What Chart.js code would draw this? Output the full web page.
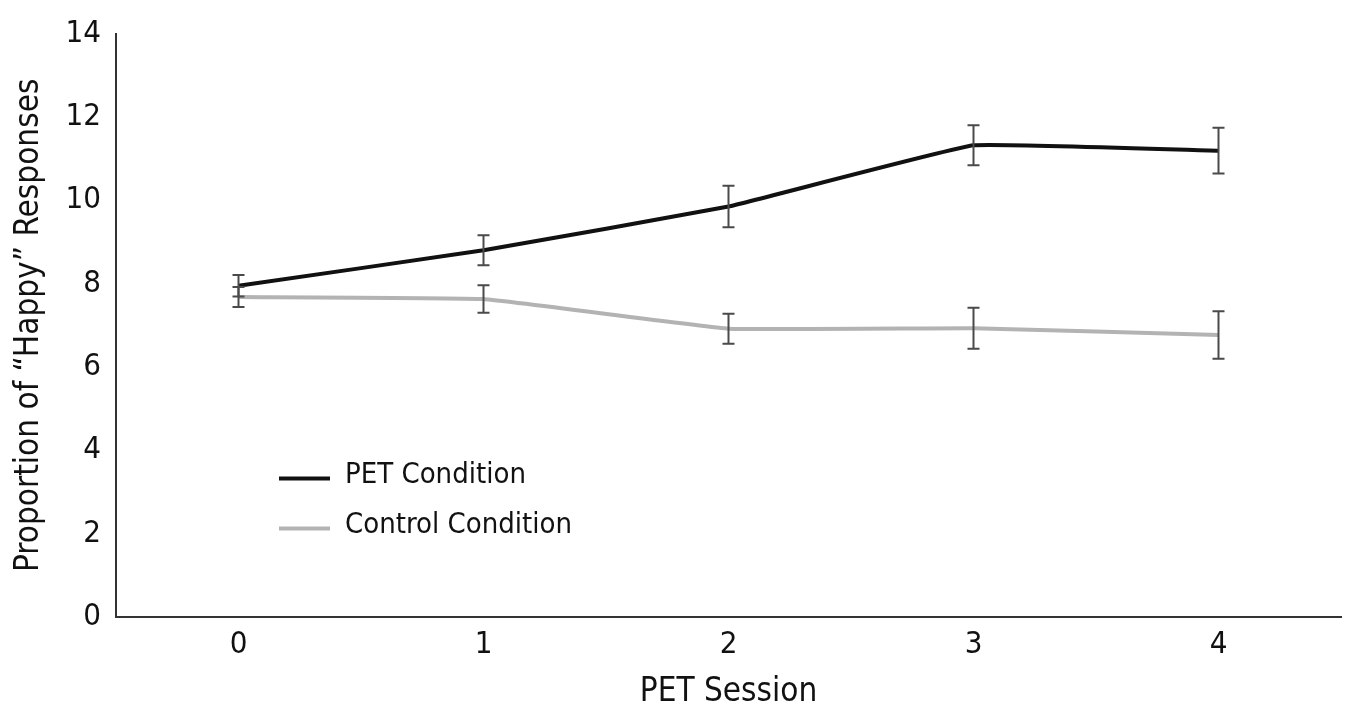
<!DOCTYPE html>
<html>
<head>
<meta charset="utf-8">
<script src="https://cdn.jsdelivr.net/npm/chart.js@4"></script>
<style>
html,body{margin:0;padding:0;background:#fff;}
#wrap{width:1349px;height:715px;}
</style>
</head>
<body>
<div id="wrap"><canvas id="c" width="1349" height="715"></canvas></div>
<script>
const categories = ["0", "1", "2", "3", "4"];
const petValues = [7.95, 8.80, 9.85, 11.32, 11.19];
const petErrors = [0.26, 0.36, 0.50, 0.48, 0.55];
const controlValues = [7.68, 7.63, 6.92, 6.93, 6.77];
const controlErrors = [0.24, 0.33, 0.36, 0.49, 0.57];
const yTicks = [0, 2, 4, 6, 8, 10, 12, 14];
const seriesNames = ["PET Condition", "Control Condition"];

const FONT = "'DejaVu Sans Condensed', 'Liberation Sans Narrow', 'Roboto', sans-serif";

const errorBarPlugin = {
  id: 'errorBars',
  afterDatasetsDraw(chart) {
    const ctx = chart.ctx;
    const x = chart.scales.x, y = chart.scales.y;
    ctx.save();
    ctx.strokeStyle = '#4a4a4a';
    ctx.lineWidth = 2;
    chart.data.datasets.forEach(ds => {
      ds.values.forEach((v, i) => {
        const px = x.getPixelForValue(i);
        const top = y.getPixelForValue(v + ds.errors[i]);
        const bot = y.getPixelForValue(v - ds.errors[i]);
        ctx.beginPath();
        ctx.moveTo(px, top); ctx.lineTo(px, bot);
        ctx.moveTo(px - 6, top); ctx.lineTo(px + 6, top);
        ctx.moveTo(px - 6, bot); ctx.lineTo(px + 6, bot);
        ctx.stroke();
      });
    });
    ctx.restore();
  }
};

const legendPlugin = {
  id: 'insideLegend',
  afterDraw(chart) {
    const ctx = chart.ctx;
    const a = chart.chartArea;
    ctx.save();
    ctx.font = "29px " + FONT;
    ctx.textBaseline = 'middle';
    ctx.fillStyle = '#111';
    chart.data.datasets.forEach((ds, i) => {
      const ly = a.top + 445 + i * 50;
      ctx.strokeStyle = ds.borderColor;
      ctx.lineWidth = 4;
      ctx.beginPath();
      ctx.moveTo(a.left + 163, ly);
      ctx.lineTo(a.left + 214, ly);
      ctx.stroke();
      ctx.fillText(ds.label, a.left + 229, ly - 3);
    });
    ctx.restore();
  }
};

new Chart(document.getElementById('c'), {
  type: 'line',
  data: {
    labels: categories,
    datasets: [
      { label: seriesNames[0], data: petValues, values: petValues, errors: petErrors,
        borderColor: '#111', borderWidth: 4, pointRadius: 0, tension: 0.08, fill: false },
      { label: seriesNames[1], data: controlValues, values: controlValues, errors: controlErrors,
        borderColor: '#b3b3b3', borderWidth: 4, pointRadius: 0, tension: 0.08, fill: false }
    ]
  },
  options: {
    responsive: false,
    animation: false,
    layout: { padding: { top: 30, right: 8, left: 0, bottom: 0 } },
    plugins: { legend: { display: false }, tooltip: { enabled: false } },
    scales: {
      x: {
        offset: true,
        grid: { display: false, drawTicks: false },
        border: { display: true, color: '#333', width: 2 },
        ticks: { color: '#111', font: { family: FONT, size: 31 }, padding: 9 },
        title: { display: true, text: 'PET Session', color: '#111',
                 font: { family: FONT, size: 33 }, padding: { top: 0, bottom: 3 } },
        afterFit(s) { s.height = 98; }
      },
      y: {
        min: 0, max: 14,
        afterBuildTicks(s) { s.ticks = yTicks.map(v => ({ value: v })); },
        grid: { display: false, drawTicks: false },
        border: { display: true, color: '#333', width: 2 },
        ticks: { color: '#111', font: { family: FONT, size: 31 }, padding: 15 },
        title: { display: true, text: 'Proportion of \u201CHappy\u201D Responses', color: '#111',
                 font: { family: FONT, size: 33 }, padding: { top: 10, bottom: 0 } },
        afterFit(s) { s.width = 116; }
      }
    }
  },
  plugins: [errorBarPlugin, legendPlugin]
});
</script>
</body>
</html>
